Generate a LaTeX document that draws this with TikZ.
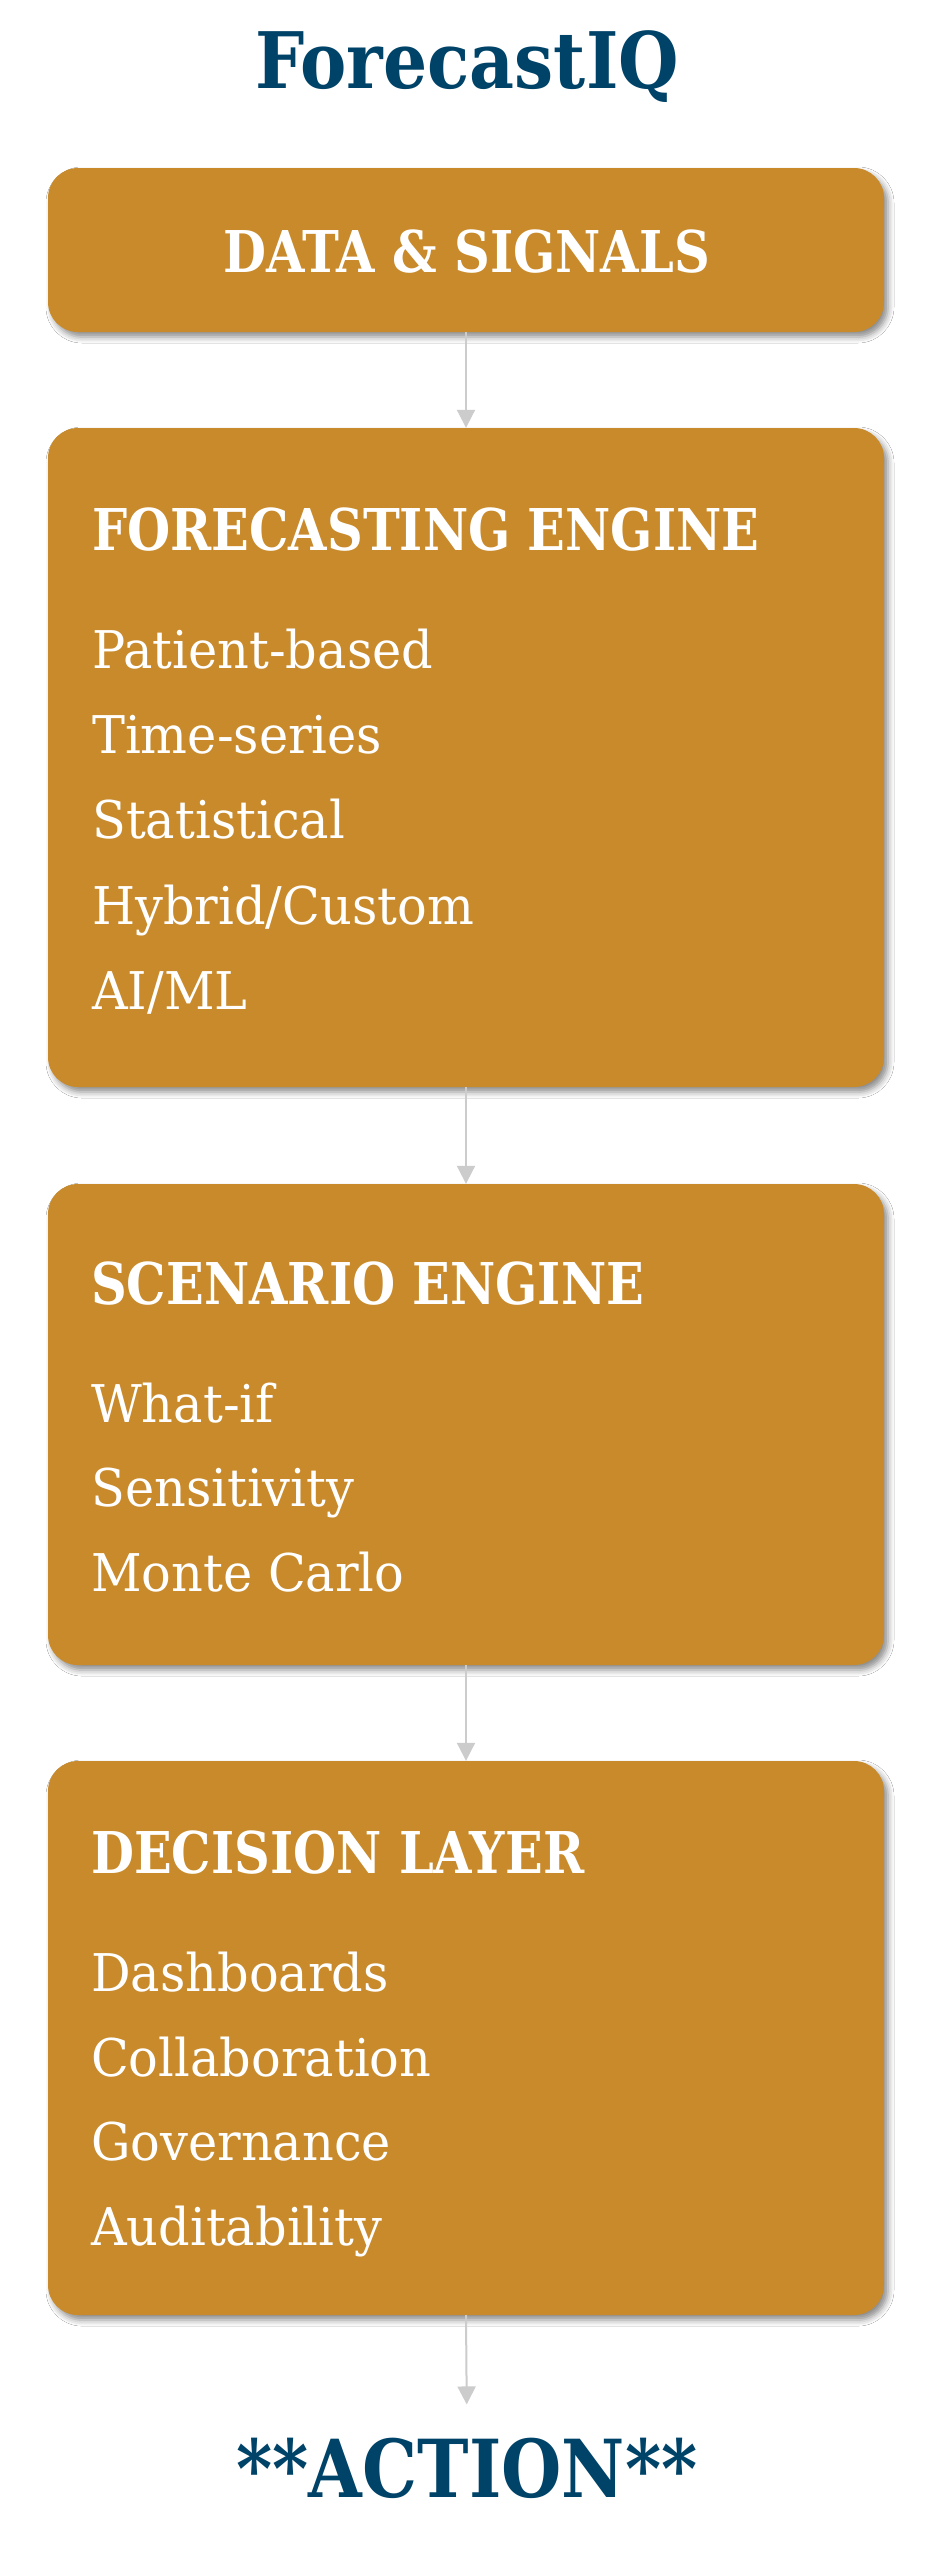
\documentclass[tikz,border=0pt]{standalone}
\usepackage{fontspec}
\setmainfont{DejaVu Serif}
\newfontfamily\ttlfont{DejaVu Serif}[FakeStretch=0.89]
\newfontfamily\actfont{DejaVu Serif}[FakeStretch=0.865]
\newfontfamily\hdfont{DejaVu Serif}[FakeStretch=0.86]
\newfontfamily\itfont{DejaVu Serif}[FakeStretch=0.95]
\usetikzlibrary{arrows.meta,shadows.blur}
\definecolor{boxc}{RGB}{200,138,42}
\definecolor{navy}{RGB}{0,67,104}
\definecolor{arrowc}{RGB}{204,204,204}
\tikzset{
  box/.style={rectangle, rounded corners=30pt, fill=boxc, draw=none,
    minimum width=836pt, inner sep=0pt,
    blur shadow={shadow xshift=4pt, shadow yshift=-5pt, shadow blur radius=6pt, shadow opacity=45}},
  bigtitle/.style={inner sep=0pt, anchor=base, text=navy, font=\ttlfont\bfseries\fontsize{78}{90}\selectfont},
  heading/.style={inner sep=0pt, anchor=base west, text=white, font=\hdfont\bfseries\fontsize{57.6}{66}\selectfont},
  item/.style={inner sep=0pt, anchor=base west, text=white, font=\itfont\fontsize{52}{60}\selectfont},
  conn/.style={draw=arrowc, line width=2pt, -{Triangle[width=18pt,length=18pt]}}
}
\begin{document}
\begin{tikzpicture}[x=1pt,y=-1pt]
\useasboundingbox (0,0) rectangle (930,2560);
\fill[white] (0,0) rectangle (930,2560);

\node[bigtitle] (title) at (467,88) {ForecastIQ};

\node[box, minimum height=164pt] (b1) at (466,250) {};
\node[heading, anchor=base] (h1) at (467,272) {DATA \& SIGNALS};

\node[box, minimum height=659pt] (b2) at (466,757.5) {};
\node[heading] (h2) at (92,550) {FORECASTING ENGINE};
\node[item] (i21) at (92,668) {Patient-based};
\node[item] (i22) at (92,753) {Time-series};
\node[item] (i23) at (92,838) {Statistical};
\node[item] (i24) at (92,924) {Hybrid/Custom};
\node[item] (i25) at (92,1009) {AI/ML};

\node[box, minimum height=481pt] (b3) at (466,1424.5) {};
\node[heading] (h3) at (91,1304) {SCENARIO ENGINE};
\node[item] (i31) at (91,1422) {What-if};
\node[item] (i32) at (91,1506) {Sensitivity};
\node[item] (i33) at (91,1591) {Monte Carlo};

\node[box, minimum height=554pt] (b4) at (466,2038) {};
\node[heading] (h4) at (91,1873) {DECISION LAYER};
\node[item] (i41) at (91,1991) {Dashboards};
\node[item] (i42) at (91,2076) {Collaboration};
\node[item] (i43) at (91,2160) {Governance};
\node[item] (i44) at (91,2245) {Auditability};

\node[bigtitle, font=\actfont\bfseries\fontsize{80}{92}\selectfont] (act) at (467,2497) {**ACTION**};

\draw[conn] (b1.south) -- (b2.north);
\draw[conn] (b2.south) -- (b3.north);
\draw[conn] (b3.south) -- (b4.north);
\draw[conn, shorten >=33pt] (b4.south) -- (act.north);
\end{tikzpicture}
\end{document}
